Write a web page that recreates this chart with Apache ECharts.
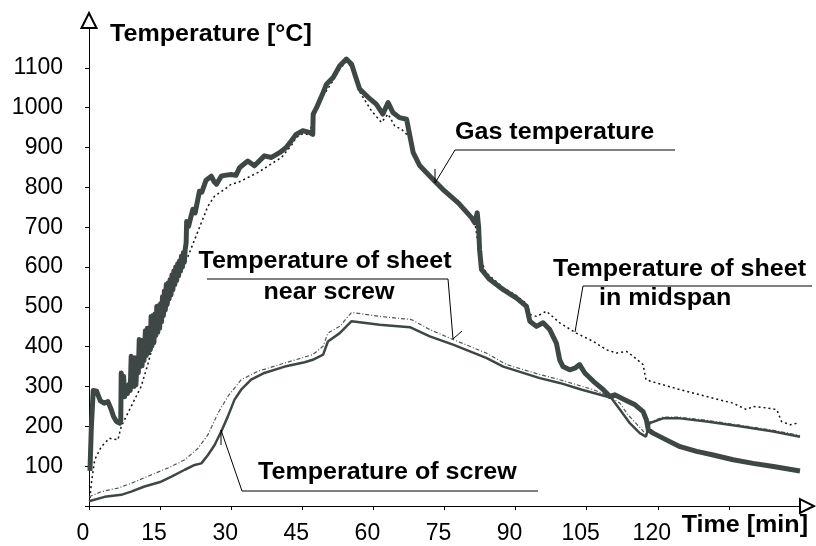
<!DOCTYPE html>
<html>
<head>
<meta charset="utf-8">
<script src="https://cdn.jsdelivr.net/npm/echarts@6/dist/echarts.min.js"></script>
<style>
  html, body { margin: 0; padding: 0; background: #fff; }
  #chart { width: 816px; height: 546px; }
</style>
</head>
<body>
<div id="chart"></div>
<script>
// ---- data: [time (min), temperature (°C)] ----
var gasTemperature = [
  [0.2, 88], [0.5, 200], [0.9, 290], [1.6, 288], [2.4, 264], [3.2, 258], [4.0, 262], [4.6, 245],
  [5.2, 224], [5.8, 212], [6.5, 208], [6.7, 215],
  [6.8, 334], [7.1, 300], [7.3, 326], [7.5, 274], [7.8, 300], [8.1, 282], [8.4, 305], [8.7, 290],
  [8.9, 376], [9.1, 312], [9.3, 370], [9.5, 300], [9.7, 372], [9.9, 304], [10.1, 362], [10.4, 335],
  [10.6, 418], [10.8, 350], [11.0, 416], [11.2, 352], [11.4, 414], [11.6, 365], [11.9, 440], [12.1, 378],
  [12.3, 446], [12.5, 384], [12.7, 447], [12.9, 392], [13.1, 476], [13.3, 402], [13.5, 478], [13.7, 410],
  [13.9, 482], [14.1, 428], [14.3, 501], [14.5, 436], [14.7, 503], [14.9, 446], [15.1, 508], [15.3, 462],
  [15.5, 525], [15.7, 478], [15.9, 540], [16.1, 492], [16.3, 556], [16.5, 506], [16.7, 560], [16.9, 520],
  [17.1, 568], [17.3, 530], [17.5, 580], [17.7, 543], [17.9, 590], [18.1, 556], [18.3, 600], [18.5, 566],
  [18.7, 608], [18.9, 578], [19.1, 615], [19.3, 590], [19.5, 627], [19.7, 600], [19.9, 636], [20.1, 612],
  [20.3, 645], [20.5, 661],
  [20.6, 714], [21.0, 702], [21.9, 745], [22.4, 736], [23.3, 790], [23.8, 788], [24.7, 818], [25.8, 828],
  [26.4, 814], [26.9, 808], [27.9, 828], [28.6, 830], [30, 832], [31, 830], [31.8, 850], [33.5, 866],
  [34.9, 854], [37, 879], [38.5, 875], [40.2, 887], [41.6, 900], [42.7, 917], [43.7, 933], [45.1, 942],
  [46.5, 938], [47.2, 933], [47.3, 984], [48, 1000], [49.4, 1038], [50.1, 1059], [51.5, 1076], [52.9, 1105],
  [54.3, 1122], [55.4, 1109], [56.4, 1072], [57.1, 1047], [58.9, 1026], [60.6, 1009], [62, 984], [63.1, 1013],
  [64.1, 988], [65.5, 975], [67, 971], [67.7, 929], [68.4, 887], [69.8, 854], [72.9, 816], [75, 791],
  [77.9, 761], [80.7, 724], [81.4, 711], [81.9, 736], [82.2, 700], [82.4, 644], [82.8, 594], [84.5, 569],
  [87.4, 543], [90.2, 522], [92.3, 501], [93, 464], [94.4, 451], [95.8, 460], [97.2, 443], [98.6, 409],
  [99.3, 367], [100, 350], [101.4, 342], [102.5, 346], [103.5, 355], [104.6, 334], [106.4, 313], [108.5, 292],
  [109.9, 275], [110.9, 279], [113, 267], [115.2, 254], [116.9, 237], [117.6, 216], [118, 191], [119, 183],
  [121.8, 166], [124.7, 149], [128.2, 137], [131.7, 128], [135.9, 116], [140.1, 107], [144.4, 99], [150, 88]
];
var sheetMidspan = [
  [0.2, 20], [0.5, 57], [1.2, 116], [2.6, 149], [4.3, 170], [6.1, 166], [6.8, 200], [8.9, 250],
  [11, 300], [12.4, 355], [13.8, 418], [15.6, 468], [17, 518], [18.7, 569], [20.9, 627], [22.3, 669],
  [23.7, 711], [25.1, 753], [26.5, 778], [28.6, 795], [30, 808], [31.4, 812], [35.6, 837], [40.6, 875],
  [42.7, 905], [43.7, 925], [45.1, 935], [46.5, 932], [47.3, 975], [48, 992], [49.4, 1030], [51.5, 1068],
  [52.9, 1098], [54.3, 1115], [55.4, 1102], [56.4, 1065], [57.1, 1040], [59.6, 992], [61.7, 963], [63.1, 984],
  [64.5, 954], [65.9, 946], [67.7, 925], [68.4, 885], [69.8, 850], [72.9, 812], [75, 790], [77.9, 762],
  [80.7, 727], [81.4, 712], [82.6, 620], [83.8, 585], [87.4, 548], [90.2, 528], [92.3, 508], [93.2, 480],
  [94.4, 476], [96.5, 489], [99.3, 460], [102.8, 434], [106.4, 413], [109.2, 392], [111.3, 384], [113.4, 388],
  [114.8, 376], [116.9, 355], [117.5, 317], [119.7, 309], [124.7, 292], [130.3, 275], [135.9, 258], [138.7, 242],
  [140.1, 250], [143, 246], [145.1, 242], [146.1, 212], [147.9, 204], [149.5, 208]
];
var sheetNearScrew = [
  [0, 23], [2.6, 36], [6.1, 45], [8.9, 57], [13.1, 78], [16.6, 95], [20.2, 116], [23, 145],
  [25.1, 179], [27.2, 233], [29.3, 275], [32.1, 317], [35.6, 338], [41.3, 359], [47.2, 380], [49.4, 401],
  [50.4, 434], [52.9, 451], [55.4, 486], [61.3, 476], [68, 468], [71.9, 443], [76.8, 418], [83.8, 384],
  [88.1, 355], [95.1, 330], [99.3, 317], [106.4, 292], [109.9, 275], [112, 258], [113.7, 229], [116, 200],
  [117.5, 180], [118.3, 211], [121.1, 223], [124.7, 223], [130.3, 215], [137.3, 203], [144.4, 190], [150, 177]
];
var screwTemperature = [
  [0, 12], [3.3, 23], [6.8, 28], [8.9, 36], [11.7, 49], [15.2, 61], [17.4, 74], [20.2, 91],
  [22.3, 103], [23.7, 107], [25.1, 128], [26.5, 153], [27.9, 187], [29.3, 225], [30.7, 267], [32.1, 292],
  [34.2, 317], [37, 334], [41.3, 350], [45.5, 361], [47.2, 367], [49.4, 380], [50.4, 413], [52.9, 434],
  [55.4, 464], [61.3, 455], [67.7, 449], [71.9, 426], [76.8, 405], [83.8, 372], [87.4, 350], [95.1, 321],
  [99.3, 309], [104, 292], [109.2, 275], [110.2, 271], [112, 242], [114.1, 208], [116.2, 183], [117.5, 174],
  [118.3, 208], [121.1, 220], [124.7, 220], [130.3, 212], [137.3, 200], [144.4, 187], [150, 174]
];
var xTicks = [0, 15, 30, 45, 60, 75, 90, 105, 120, 135, 150];
var yTicks = [0, 100, 200, 300, 400, 500, 600, 700, 800, 900, 1000, 1100];
var yTitle = 'Temperature [°C]';
var xTitle = 'Time [min]';
var labels = {
  gas: 'Gas temperature',
  nearScrew1: 'Temperature of sheet',
  nearScrew2: 'near screw',
  midspan1: 'Temperature of sheet',
  midspan2: 'in midspan',
  screw: 'Temperature of screw'
};

var FONT = '"Liberation Sans", Arial, sans-serif';
var BOLD = 'bold 23px ' + FONT;
var STRETCH = 1.09;
var ink = '#3f4746';

function txt(text, x, y, align) {
  return { type: 'text', x: x, y: y, z: 100, silent: true, scaleX: STRETCH,
    style: { text: text, font: BOLD, fill: '#000', align: align || 'left', verticalAlign: 'middle' } };
}
function ln(x1, y1, x2, y2) {
  return { type: 'line', z: 100, silent: true, shape: { x1: x1, y1: y1, x2: x2, y2: y2 },
    style: { stroke: '#000', lineWidth: 1 } };
}

var chart = echarts.init(document.getElementById('chart'), null, { renderer: 'canvas' });
chart.setOption({
  animation: false,
  backgroundColor: '#fff',
  grid: { left: 89, right: 16, top: 28, bottom: 40 },
  xAxis: {
    type: 'value', min: 0, max: 150, interval: 15,
    axisLine: { show: true, lineStyle: { color: '#000', width: 1 },
      symbol: ['none', 'emptyTriangle'], symbolSize: [14, 14], symbolOffset: [0, 7] },
    axisTick: { show: true, length: 4, lineStyle: { color: '#000' }, customValues: xTicks },
    splitLine: { show: false },
    axisLabel: { fontSize: 23, fontFamily: FONT, color: '#000', margin: 16, padding: [0, 12, 0, 0],
      formatter: function (v) { return String(v); },
      customValues: xTicks.filter(function (v) { return v <= 120; }) }
  },
  yAxis: {
    type: 'value', min: 0, max: 1200, interval: 100,
    axisLine: { show: true, lineStyle: { color: '#000', width: 1 },
      symbol: ['none', 'emptyTriangle'], symbolSize: [15, 15], symbolOffset: [0, 7.5] },
    axisTick: { show: true, length: 4, lineStyle: { color: '#000' }, customValues: yTicks },
    splitLine: { show: false },
    axisLabel: { fontSize: 23, fontFamily: FONT, color: '#000', margin: 26,
      formatter: function (v) { return String(v); },
      customValues: yTicks.filter(function (v) { return v > 0; }) }
  },
  series: [
    { name: 'midspan', type: 'line', data: sheetMidspan, showSymbol: false, symbol: 'none', z: 2,
      lineStyle: { color: '#111', width: 1.5, type: [2, 3] } },
    { name: 'nearScrew', type: 'line', data: sheetNearScrew, showSymbol: false, symbol: 'none', z: 2,
      lineStyle: { color: '#555', width: 1.2, type: [4, 2, 1, 2] } },
    { name: 'screw', type: 'line', data: screwTemperature, showSymbol: false, symbol: 'none', z: 3,
      lineStyle: { color: ink, width: 2.5 } },
    { name: 'gas', type: 'line', data: gasTemperature, showSymbol: false, symbol: 'none', z: 4,
      sampling: null, lineStyle: { color: ink, width: 5, join: 'round' } }
  ],
  graphic: [
    txt(yTitle, 110, 35),
    txt(xTitle, 808, 526, 'right'),
    // Gas temperature
    txt(labels.gas, 455, 133),
    ln(455, 150, 675, 150), ln(455, 150, 435, 183), ln(435, 183, 435, 169),
    // sheet near screw
    txt(labels.nearScrew1, 325, 262, 'center'),
    txt(labels.nearScrew2, 329, 293, 'center'),
    ln(207, 279, 448, 279), ln(448, 279, 453, 339), ln(453, 339, 462, 331),
    // sheet in midspan
    txt(labels.midspan1, 553, 270),
    txt(labels.midspan2, 599, 299),
    ln(583, 286, 812, 286), ln(583, 286, 575, 332),
    // screw
    txt(labels.screw, 258, 473),
    ln(242, 491, 538, 491), ln(242, 491, 221, 430), ln(221, 430, 221, 445)
  ]
});
</script>
</body>
</html>
